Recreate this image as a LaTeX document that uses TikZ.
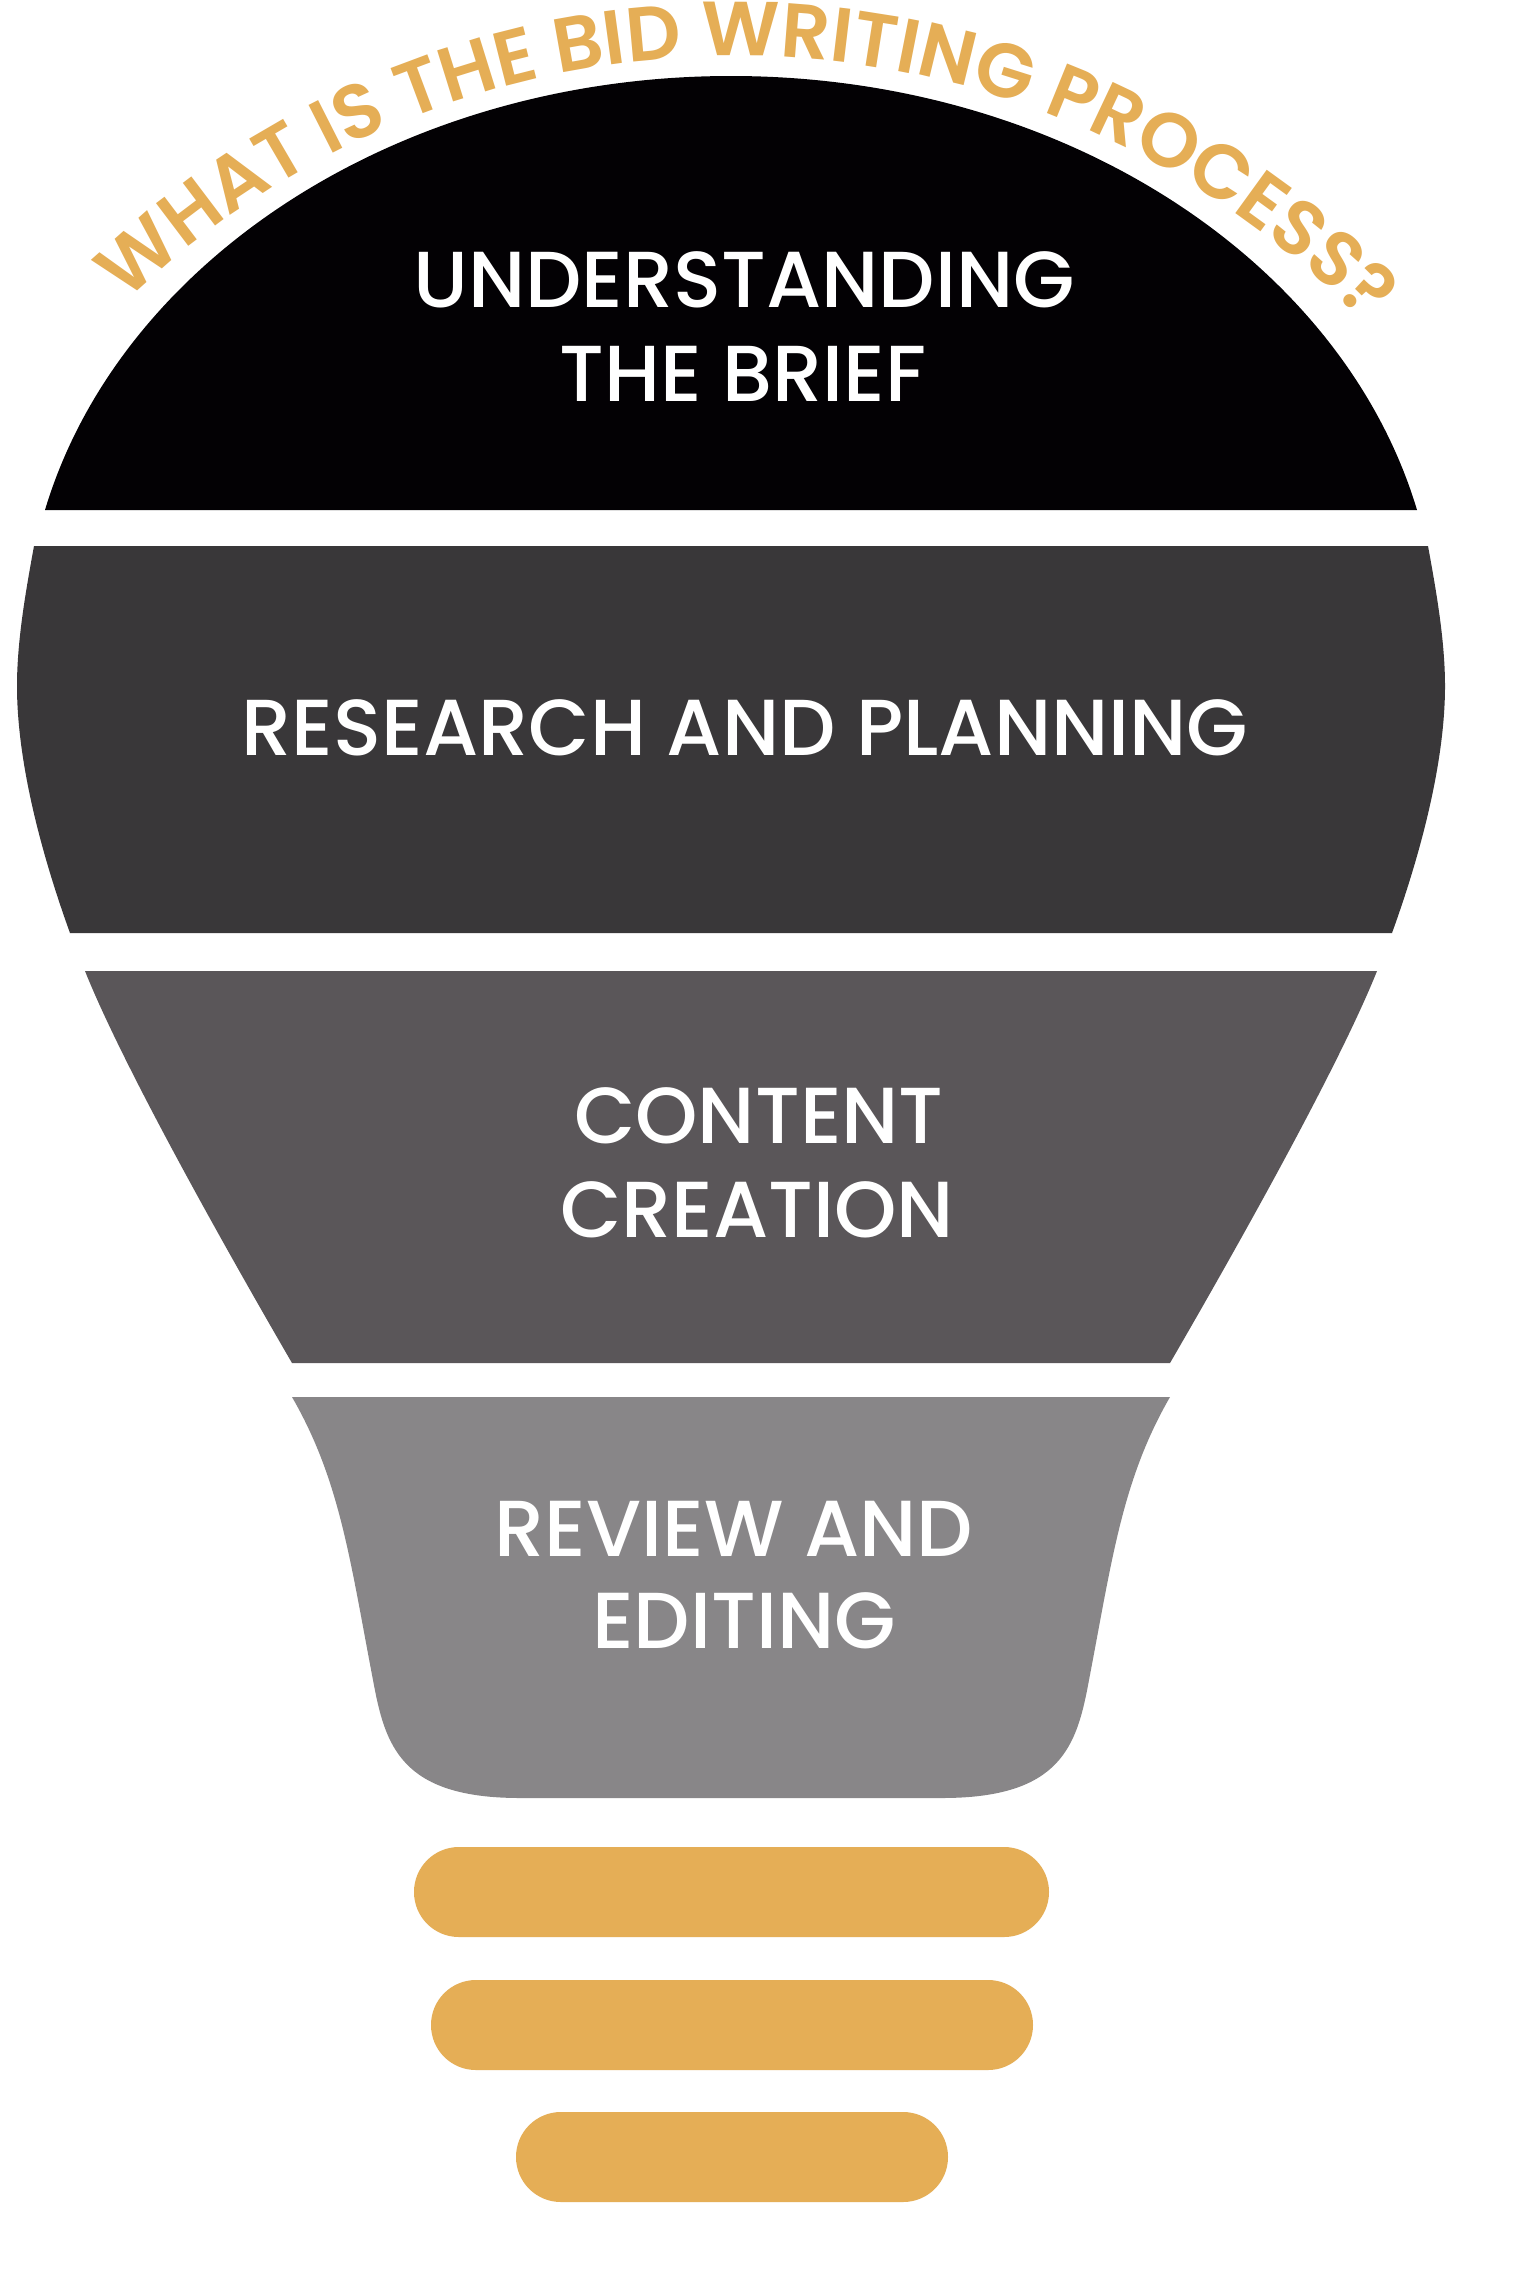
\documentclass[tikz,border=0pt]{standalone}
\usepackage{fontspec}
\setmainfont{Poppins}
\newfontfamily\steplabelfam{Poppins Medium}
\newfontfamily\arctitlefam{Poppins SemiBold}
\usetikzlibrary{decorations.text}
\definecolor{bulbblack}{HTML}{030104}
\definecolor{banddark}{HTML}{393739}
\definecolor{bandmid}{HTML}{5A5659}
\definecolor{bandlight}{HTML}{888688}
\definecolor{gold}{HTML}{E5AE56}
\newcommand\steplabelfont{\steplabelfam\fontsize{22.6}{27}\selectfont}
\newcommand\arctitlefont{\arctitlefam\fontsize{21.8}{26}\selectfont}
\begin{document}
\begin{tikzpicture}[x=0.1mm,y=0.1mm,
  steplabel/.style={text=white, font=\steplabelfont, anchor=base, inner sep=0pt},
  bar/.style={fill=gold, rounded corners=4.49mm}]
\useasboundingbox (0,0) rectangle (1515,-2284);
\fill[white] (0,0) rectangle (1515,-2284);
% top dome
\fill[bulbblack] (45,-510) .. controls (120,-260) and (400,-76) .. (731,-76)
  .. controls (1062,-76) and (1342,-260) .. (1417,-510) -- cycle;
% band 2
\fill[banddark] (34,-546) -- (1428,-546) .. controls (1436,-590) and (1445,-640) .. (1445,-686)
  .. controls (1445,-760) and (1422,-850) .. (1392,-933) -- (70,-933)
  .. controls (40,-850) and (17,-760) .. (17,-686)
  .. controls (17,-640) and (26,-590) .. (34,-546) -- cycle;
% band 3
\fill[bandmid] (85,-971) -- (1377,-971) .. controls (1337,-1071) and (1228,-1263) .. (1170,-1363)
  -- (292,-1363) .. controls (234,-1263) and (125,-1071) .. (85,-971) -- cycle;
% band 4
\fill[bandlight] (292,-1397) -- (1170,-1397) .. controls (1122,-1480) and (1112,-1560) .. (1089,-1680)
  .. controls (1077,-1745) and (1062,-1798) .. (942,-1798) -- (520,-1798)
  .. controls (400,-1798) and (385,-1745) .. (373,-1680)
  .. controls (350,-1560) and (340,-1480) .. (292,-1397) -- cycle;
% base bars
\fill[bar] (414,-1847) rectangle (1049,-1937);
\fill[bar] (431,-1980) rectangle (1033,-2070);
\fill[bar] (516,-2112) rectangle (948,-2202);
% curved title
\path[decorate, decoration={text along path,
  text={|\arctitlefont|WHAT IS THE BID WRITING PROCESS?},
  text align=center, text color=gold}]
  (735,-931) ++(149:875) arc[start angle=149, end angle=29, radius=875];
% labels
\node[steplabel] (brief1) at (744,-307) {UNDERSTANDING};
\node[steplabel] (brief2) at (743,-401) {THE BRIEF};
\node[steplabel] (research) at (745,-755) {RESEARCH AND PLANNING};
\node[steplabel] (content1) at (759,-1143) {CONTENT};
\node[steplabel] (content2) at (757,-1237) {CREATION};
\node[steplabel] (review1) at (734,-1556) {REVIEW AND};
\node[steplabel] (review2) at (744,-1648) {EDITING};
\end{tikzpicture}
\end{document}
